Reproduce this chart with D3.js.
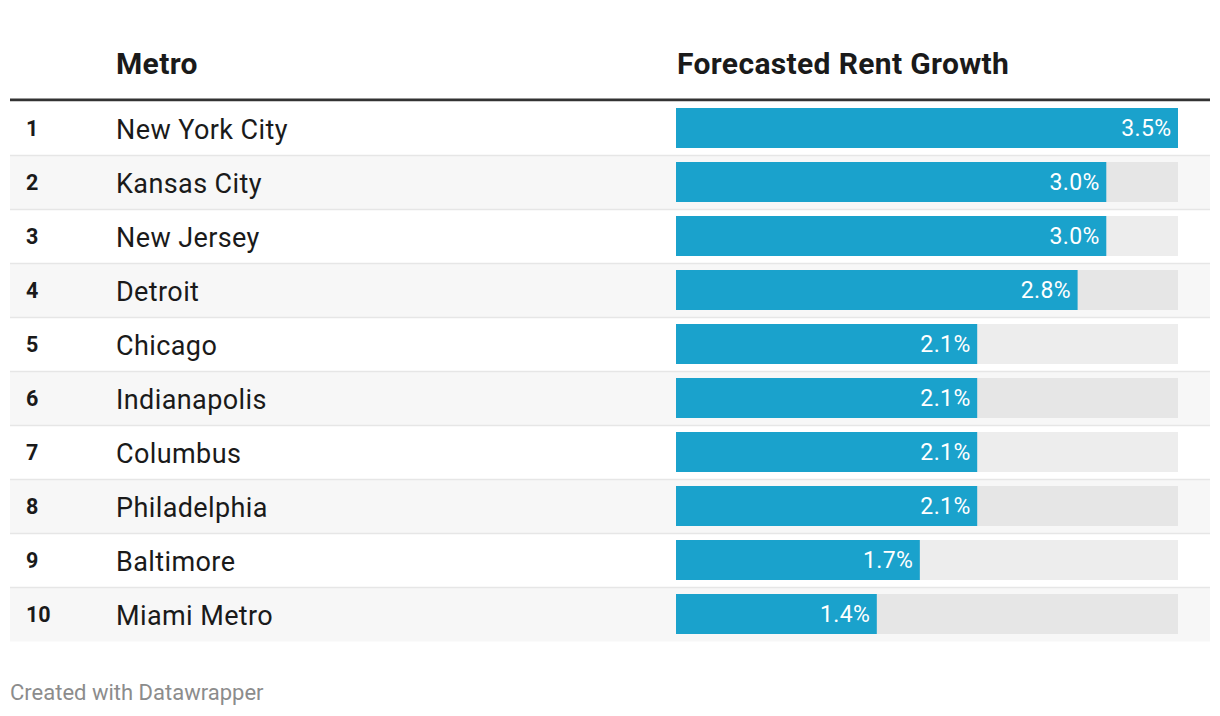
<!DOCTYPE html>
<html><head><meta charset="utf-8">
<script src="https://cdn.jsdelivr.net/npm/d3@7"></script>
<style>
html,body{margin:0;padding:0;background:#fff;}
svg{display:block;font-family:Roboto,"Noto Sans",sans-serif;}
</style></head>
<body>
<svg id="c" width="1220" height="716"></svg>
<script>
const ranks = ["1","2","3","4","5","6","7","8","9","10"];
const metros = ["New York City","Kansas City","New Jersey","Detroit","Chicago","Indianapolis","Columbus","Philadelphia","Baltimore","Miami Metro"];
const growth = [3.5,3.0,3.0,2.8,2.1,2.1,2.1,2.1,1.7,1.4];
const headers = ["Metro","Forecasted Rent Growth"];
const footer = "Created with Datawrapper";

const svg = d3.select("#c");
const left = 10, right = 1210;
const y = d3.scaleBand().domain(ranks).range([101.5, 641.5]).padding(0);
const x = d3.scaleLinear().domain([0, d3.max(growth)]).range([676, 1178]);

// header
svg.append("text").attr("x",116).attr("y",73.5).attr("font-size",30).attr("letter-spacing",0.35).attr("font-weight","bold").attr("fill","#1a1a1a").text(headers[0]);
svg.append("text").attr("x",677).attr("y",73.5).attr("font-size",30).attr("letter-spacing",0.35).attr("font-weight","bold").attr("fill","#1a1a1a").text(headers[1]);
svg.append("rect").attr("x",left).attr("y",98.5).attr("width",right-left).attr("height",3).attr("fill","#333");

const rows = svg.selectAll("g.row").data(ranks.map((r,i)=>({r, m:metros[i], v:growth[i], i})))
  .enter().append("g").attr("class","row").attr("transform", d=>`translate(0,${y(d.r)})`);

rows.append("rect").attr("x",left).attr("y",0).attr("width",right-left).attr("height",y.bandwidth())
  .attr("fill", d=> d.i%2===1 ? "#f7f7f7" : "#ffffff");
rows.filter(d=>d.i>0).append("rect").attr("x",left).attr("y",-0.75).attr("width",right-left).attr("height",1.5).attr("fill","#e6e6e6");

rows.append("text").attr("x",26).attr("y",y.bandwidth()/2+7.8).attr("font-size",21.5).attr("font-weight","bold").attr("fill","#1a1a1a").text(d=>d.r);
rows.append("text").attr("x",116).attr("y",y.bandwidth()/2+10).attr("font-size",27).attr("letter-spacing",0.4).attr("fill","#1a1a1a").text(d=>d.m);

rows.append("rect").attr("x",x(0)).attr("y",6.5).attr("width",x(d3.max(growth))-x(0)).attr("height",40)
  .attr("fill", d=> d.i%2===1 ? "#e6e6e6" : "#ededed");
rows.append("rect").attr("x",x(0)).attr("y",6.5).attr("width",d=>x(d.v)-x(0)).attr("height",40).attr("fill","#1aa2cc");
rows.append("text").attr("x",d=>x(d.v)-6.5).attr("y",y.bandwidth()/2+7.5).attr("text-anchor","end")
  .attr("font-size",23).attr("letter-spacing",0.4).attr("fill","#ffffff").text(d=>d.v.toFixed(1)+"%");

svg.append("text").attr("x",10).attr("y",700).attr("font-size",22).attr("fill","#8c8c8c").text(footer);
</script>
</body></html>
